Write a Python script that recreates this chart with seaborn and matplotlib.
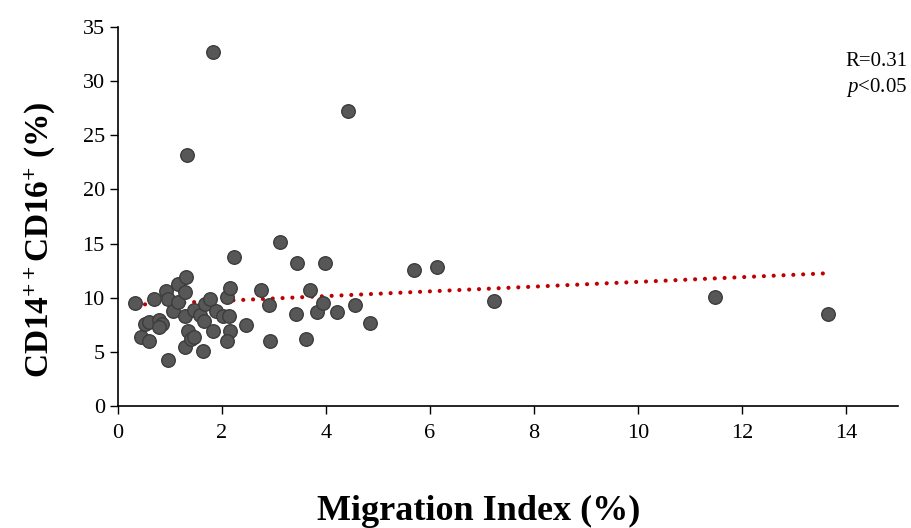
import numpy as np
import pandas as pd
import matplotlib
matplotlib.use("Agg")
import matplotlib.pyplot as plt
import seaborn as sns

# Migration index (%) and CD14++CD16+ monocytes (%) per subject
migration_index = [
    0.33, 0.45, 0.51, 0.59, 0.60, 0.69, 0.78, 0.84, 0.79, 0.93,
    0.97, 0.97, 1.06, 1.15, 1.15, 1.28, 1.30, 1.28, 1.28, 1.34,
    1.41, 1.47, 1.46, 1.57, 1.65, 1.67, 1.77, 1.64, 1.83, 1.88,
    2.02, 2.13, 2.10, 2.16, 2.16, 2.10, 2.23, 2.47, 2.75, 2.90,
    2.93, 3.12, 3.45, 3.43, 3.61, 3.70, 3.82, 3.95, 3.98, 4.22,
    4.55, 4.84, 1.32, 1.83, 4.42, 5.70, 6.13, 7.24, 11.48, 13.66,
]
cd14_cd16 = [
    9.54, 6.34, 7.57, 7.76, 5.97, 9.85, 7.94, 7.57, 7.26, 10.60,
    9.85, 4.25, 8.80, 11.30, 9.63, 10.56, 11.88, 8.31, 5.42, 6.95,
    6.22, 6.34, 8.86, 8.37, 7.88, 9.40, 9.85, 5.11, 6.89, 8.80,
    8.31, 8.31, 10.10, 10.86, 6.95, 5.97, 13.79, 7.45, 10.70, 9.35,
    5.97, 15.14, 13.23, 8.50, 6.16, 10.70, 8.68, 9.54, 13.23, 8.68,
    9.35, 7.63, 23.20, 32.70, 27.20, 12.60, 12.80, 9.70, 10.10, 8.50,
]
x_ticks = [0, 2, 4, 6, 8, 10, 12, 14]
y_ticks = [0, 5, 10, 15, 20, 25, 30, 35]
stats_text = ["R=0.31", r"$\mathit{p}$<0.05"]

df = pd.DataFrame({"mi": migration_index, "cd": cd14_cd16})

sns.set_style("ticks")
plt.rcParams["font.family"] = ["Liberation Serif", "DejaVu Serif"]
plt.rcParams["text.color"] = "black"
plt.rcParams["axes.labelcolor"] = "black"
plt.rcParams["mathtext.fontset"] = "custom"
plt.rcParams["mathtext.rm"] = "Liberation Serif"
plt.rcParams["mathtext.it"] = "Liberation Serif:italic"
plt.rcParams["mathtext.bf"] = "Liberation Serif:bold"

fig = plt.figure(figsize=(9.12, 5.28), dpi=100)
ax = fig.add_axes([0.1294, 0.231, 0.8552, 0.7179])

sns.regplot(
    data=df, x="mi", y="cd", ax=ax, ci=None, truncate=True,
    scatter_kws=dict(s=95, color="#575757", edgecolor="#3c3c3c",
                     linewidths=1.0, alpha=1, zorder=3),
    line_kws=dict(color="#c00000", linewidth=3.0,
                  linestyle=(0, (0.01, 2.35)), dash_capstyle="round",
                  zorder=2),
)

ax.set_xlim(0, 15)
ax.set_ylim(0, 35)
ax.set_xticks(x_ticks)
ax.set_yticks(y_ticks)
ax.tick_params(axis="both", labelsize=16, direction="out", length=6,
               width=1, color="black", labelcolor="black")
ax.tick_params(axis="x", pad=7)
for side in ("top", "right"):
    ax.spines[side].set_visible(False)
for side in ("left", "bottom"):
    ax.spines[side].set_color("black")
    ax.spines[side].set_linewidth(1.2)

ax.set_xlabel("Migration Index (%)", fontsize=26, fontweight="bold")
ax.xaxis.set_label_coords(0.462, -0.235)
ax.set_ylabel(r"CD14$^{\mathbf{++}}$CD16$^{\mathbf{+}}$ (%)", fontsize=24,
              fontweight="bold")
ax.yaxis.set_label_coords(-0.078, 0.438)

fig.text(0.995, 0.883, stats_text[0], ha="right", va="center", fontsize=15)
fig.text(0.995, 0.835, stats_text[1], ha="right", va="center", fontsize=15)

fig.savefig("out.png", dpi=100)
